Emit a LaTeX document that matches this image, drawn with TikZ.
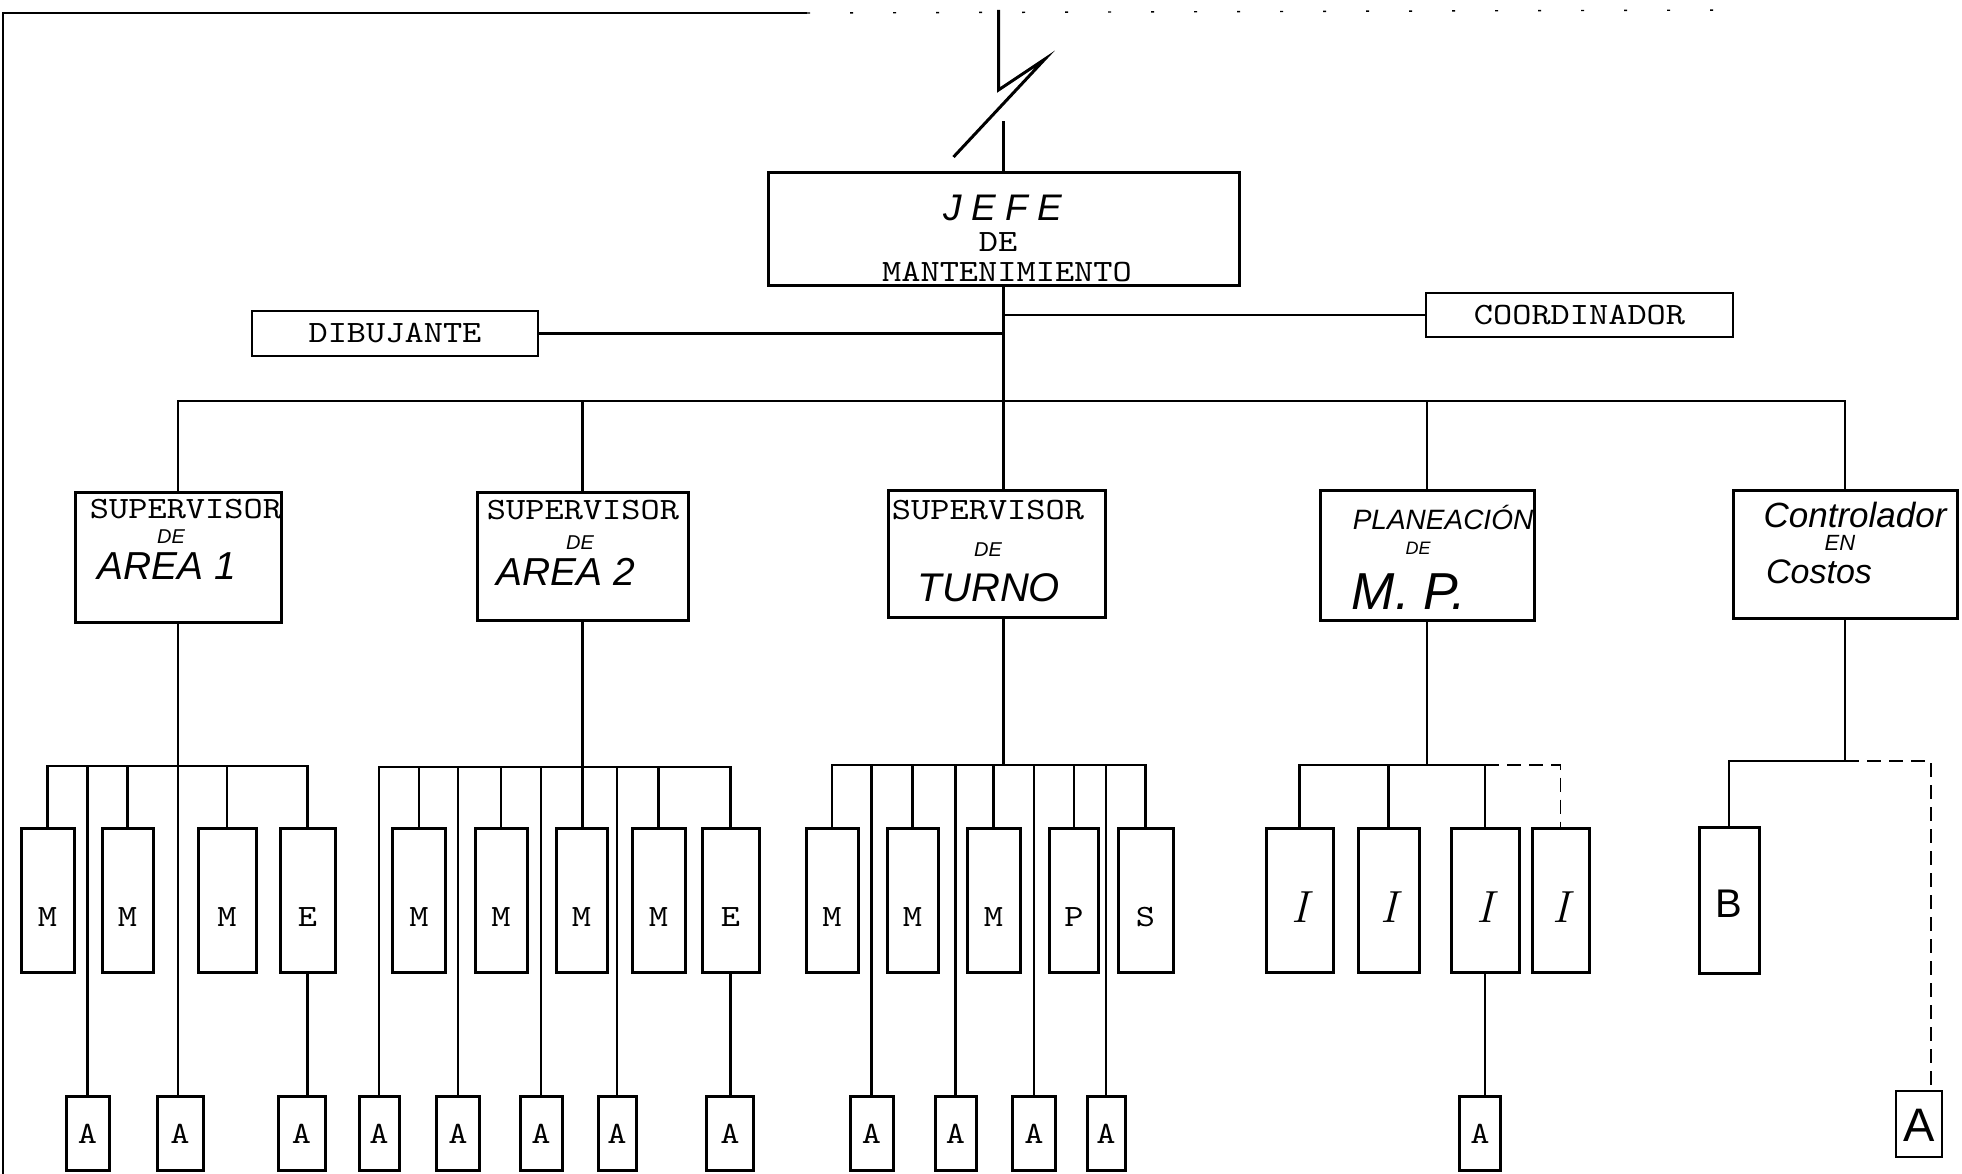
\documentclass[tikz,border=0pt]{standalone}
\usepackage{fontspec}
\newfontfamily\typewr{lmmono10-regular.otf}[FakeStretch=1.18]
\newfontfamily\hand{Liberation Sans}
\newcommand{\tsz}{\typewr\fontsize{31}{31}\selectfont}
\newcommand{\hsz}[1]{\hand\itshape\fontsize{#1}{#1}\selectfont}

\begin{document}
\begin{tikzpicture}[x=1pt, y=-1pt,
    box/.style={draw, line width=3pt, inner sep=0pt},
    mbox/.style={box, minimum height=144pt, text height=53pt, text depth=0pt, font=\tsz},
    abox/.style={box, minimum height=74pt, text height=19pt, text depth=0pt, font=\tsz},
    ibox/.style={box, minimum height=144pt, text height=45pt, text depth=0pt,
      font=\rmfamily\itshape\fontsize{45}{45}\selectfont},
    supbox/.style={box, minimum height=128pt},
    tw/.style={inner sep=0pt, font=\tsz},
    hw/.style={inner sep=0pt},
    link/.style={line width=2.7pt},
    faint/.style={line width=1.8pt, dash pattern=on 14pt off 8pt}]
  \fill[white] (0,0) rectangle (1962,1174);
  \useasboundingbox (0,0) rectangle (1962,1174);
  % frame
  \draw[link] (3,1174) -- (3,13) -- (807,13);
  \draw[line width=1.4pt, dash pattern=on 3pt off 40pt] (807,13) -- (1740,10);

  % jefe
  \node[box, minimum width=471pt, minimum height=113pt] (jefe) at (1003.5,229.5) {};
  \node[hw, font=\hsz{37}\addfontfeature{LetterSpace=25}] (jefeA) at (1003,208) {JEFE};
  \node[tw] (jefeB) at (998,242) {DE};
  \node[tw] (jefeC) at (1007,272) {MANTENIMIENTO};
  \coordinate (brk) at (998.5,10);
  \draw[link, line width=3pt] (brk) -- ++(0,80) -- ++(46.5,-31) -- ++(-91.5,98);
  \draw[link] (jefe.north) -- ++(0,-50);

  % staff
  \node[box, line width=2.6pt, minimum width=286pt, minimum height=45pt, font=\tsz] (dib) at (395,333.5) {DIBUJANTE};
  \node[box, line width=1.8pt, minimum width=307pt, minimum height=44pt, font=\tsz] (coord) at (1579.5,315) {COORDINADOR};
  \draw[link] (dib.east) -- (dib.east -| jefe.south);
  \draw[link] (coord.west) -- (coord.west -| jefe.south);

  % second level
  \node[supbox, minimum width=206pt, minimum height=130pt] (sup1) at (178,557) {};
  \node[tw] (sup1a) at (186,509) {SUPERVISOR};
  \node[hw, font=\hsz{20}] (sup1b) at (171,537) {DE};
  \node[hw, font=\hsz{39}] (sup1c) at (167,566) {AREA 1};
  \node[supbox, minimum width=211pt] (sup2) at (582.5,556) {};
  \node[tw] (sup2a) at (583,510) {SUPERVISOR};
  \node[hw, font=\hsz{20}] (sup2b) at (580,543) {DE};
  \node[hw, font=\hsz{39}] (sup2c) at (566,572) {AREA 2};
  \node[supbox, minimum width=217pt, minimum height=127pt] (turno) at (996.5,553.5) {};
  \node[tw] (turnoa) at (988,510) {SUPERVISOR};
  \node[hw, font=\hsz{20}] (turnob) at (988,550) {DE};
  \node[hw, font=\hsz{40}] (turnoc) at (989,588) {TURNO};
  \node[supbox, minimum width=214pt, minimum height=130pt] (plan) at (1427,555) {};
  \node[hw, font=\hsz{28}] (plana) at (1443,517) {PLANEACIÓN};
  \node[hw, font=\hsz{18}] (planb) at (1418,548) {DE};
  \node[hw, font=\hsz{52}] (planc) at (1409,592) {M. P.};
  \node[supbox, minimum width=224pt] (ctrl) at (1845,554) {};
  \node[hw, font=\hsz{35}] (ctrla) at (1855,515) {Controlador};
  \node[hw, font=\hsz{22}] (ctrlb) at (1840,543) {EN};
  \node[hw, font=\hsz{34}] (ctrlc) at (1819,572) {Costos};
  \coordinate (bus0) at (1001,401);
  \draw[link] (jefe.south) -- (jefe.south |- turno.north);
  \draw[link] (sup1.north) -- (sup1.north |- bus0) -- (ctrl.north |- bus0) -- (ctrl.north);
  \draw[link] (sup2.north) -- (sup2.north |- bus0);
  \draw[link] (plan.north) -- (plan.north |- bus0);

  % area 1
  \node[mbox, minimum width=53pt] (m1) at (47.5,900) {M};
  \node[mbox, minimum width=51pt] (m2) at (127.5,900) {M};
  \node[mbox, minimum width=58pt] (m3) at (227,900) {M};
  \node[mbox, minimum width=55pt] (e1) at (307.5,900) {E};
  \node[abox, minimum width=43pt] (a1) at (87.5,1133.5) {A};
  \node[abox, minimum width=46pt] (a2) at (180,1133.5) {A};
  \node[abox, minimum width=47pt] (a3) at (301.5,1133.5) {A};
  \coordinate (bus1) at (178,766);
  \draw[link] (m1.north) -- (m1.north |- bus1) -- (e1.north |- bus1) -- (e1.north);
  \draw[link] (m2.north) -- (m2.north |- bus1);
  \draw[link] (m3.north) -- (m3.north |- bus1);
  \draw[link] (a1.north) -- (a1.north |- bus1);
  \draw[link] (sup1.south) -- (sup1.south |- a2.north);
  \draw[link] (e1.south) -- (e1.south |- a3.north);

  % area 2
  \node[mbox, minimum width=53pt] (m4) at (419,900) {M};
  \node[mbox, minimum width=52pt] (m5) at (501,900) {M};
  \node[mbox, minimum width=51pt] (m6) at (581.5,900) {M};
  \node[mbox, minimum width=53pt] (m7) at (658.5,900) {M};
  \node[mbox, minimum width=57pt] (e2) at (730.5,900) {E};
  \node[abox, minimum width=40pt] (a4) at (379,1133.5) {A};
  \node[abox, minimum width=43pt] (a5) at (458,1133.5) {A};
  \node[abox, minimum width=42pt] (a6) at (541,1133.5) {A};
  \node[abox, minimum width=38pt] (a7) at (617,1133.5) {A};
  \node[abox, minimum width=47pt] (a8) at (730,1133.5) {A};
  \coordinate (bus2) at (582,767);
  \draw[link] (a4.north) -- (a4.north |- bus2) -- (e2.north |- bus2) -- (e2.north);
  \draw[link] (m4.north) -- (m4.north |- bus2);
  \draw[link] (m5.north) -- (m5.north |- bus2);
  \draw[link] (m7.north) -- (m7.north |- bus2);
  \draw[link] (a5.north) -- (a5.north |- bus2);
  \draw[link] (a6.north) -- (a6.north |- bus2);
  \draw[link] (a7.north) -- (a7.north |- bus2);
  \draw[link] (sup2.south) -- (sup2.south |- m6.north);
  \draw[link] (e2.south) -- (e2.south |- a8.north);

  % turno
  \node[mbox, minimum width=52pt] (m8) at (832,900) {M};
  \node[mbox, minimum width=51pt] (m9) at (912.5,900) {M};
  \node[mbox, minimum width=53pt] (m10) at (993.5,900) {M};
  \node[mbox, minimum width=49pt] (p1) at (1074,900) {P};
  \node[mbox, minimum width=55pt] (s1) at (1145.5,900) {S};
  \node[abox, minimum width=43pt] (a9) at (871.5,1133.5) {A};
  \node[abox, minimum width=41pt] (a10) at (955.5,1133.5) {A};
  \node[abox, minimum width=43pt] (a11) at (1034,1133.5) {A};
  \node[abox, minimum width=38pt] (a12) at (1106,1133.5) {A};
  \coordinate (bus3) at (1001,765);
  \draw[link] (m8.north) -- (m8.north |- bus3) -- (s1.north |- bus3) -- (s1.north);
  \draw[link] (m9.north) -- (m9.north |- bus3);
  \draw[link] (m10.north) -- (m10.north |- bus3);
  \draw[link] (p1.north) -- (p1.north |- bus3);
  \draw[link] (a9.north) -- (a9.north |- bus3);
  \draw[link] (a10.north) -- (a10.north |- bus3);
  \draw[link] (a11.north) -- (a11.north |- bus3);
  \draw[link] (a12.north) -- (a12.north |- bus3);
  \draw[link] (jefe.south |- turno.south) -- (jefe.south |- bus3);

  % planeacion
  \node[ibox, minimum width=67pt] (i1) at (1299.5,900) {I};
  \node[ibox, minimum width=61pt] (i2) at (1388.5,900) {I};
  \node[ibox, minimum width=68pt] (i3) at (1485,900) {I};
  \node[ibox, minimum width=57pt] (i4) at (1560.5,900) {I};
  \node[abox, minimum width=41pt] (a13) at (1480,1133.5) {A};
  \coordinate (bus4) at (1425,765);
  \draw[link] (i1.north) -- (i1.north |- bus4) -- (i3.north |- bus4);
  \draw[link] (i2.north) -- (i2.north |- bus4);
  \draw[link] (i3.north) -- (i3.north |- bus4);
  \draw[faint] (i3.north |- bus4) -- (i4.north |- bus4) -- (i4.north);
  \draw[link] (plan.south) -- (plan.south |- bus4);
  \draw[link] (i3.south) -- (i3.south |- a13.north);

  % costos
  \node[box, minimum width=60pt, minimum height=146pt, text height=35pt, text depth=0pt,
    font=\hand\fontsize{40}{40}\selectfont] (b1) at (1729,900) {B};
  \node[box, line width=2.2pt, minimum width=46pt, minimum height=66pt, text height=34pt, text depth=0pt,
    font=\hand\fontsize{47}{47}\selectfont] (a14) at (1919,1124) {A};
  \coordinate (bus5) at (1845,761);
  \draw[link] (ctrl.south) -- (ctrl.south |- bus5);
  \draw[link, line width=1.8pt] (b1.north) -- (b1.north |- bus5) -- (ctrl.south |- bus5);
  \draw[faint] (ctrl.south |- bus5) -- ++(86,0) coordinate (bend) -- (bend |- a14.north);
\end{tikzpicture}
\end{document}
